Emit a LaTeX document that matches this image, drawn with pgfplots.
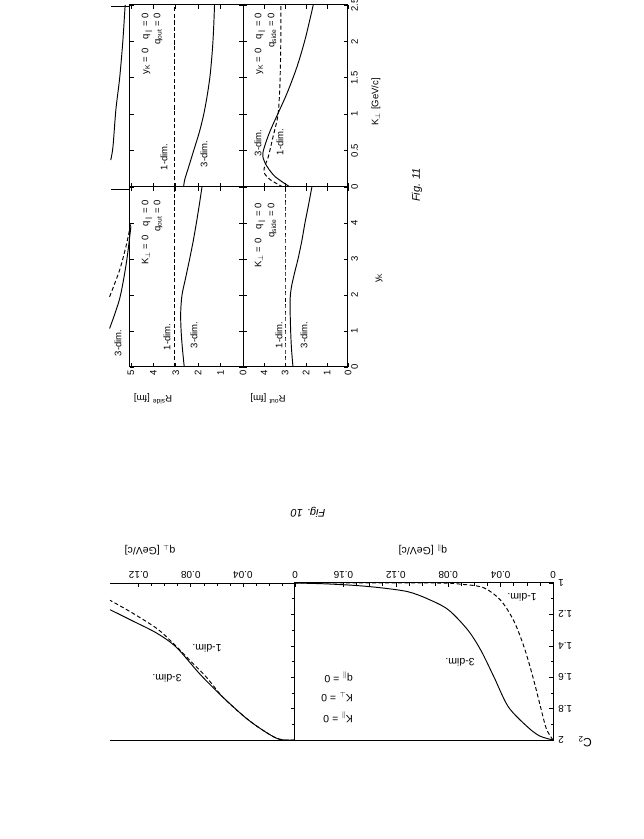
\documentclass[border=0pt]{standalone}
\usepackage{fontspec}
\setmainfont{Liberation Sans}
\setsansfont{Liberation Sans}
\usepackage{pgfplots}
\pgfplotsset{compat=1.18}

\pgfplotsset{
  panel/.style={
    scale only axis, anchor=center,
    axis line style={line width=1pt, black},
    tick style={line width=0.6pt, black},
    major tick length=4pt, minor tick length=2.5pt,
    /pgf/number format/assume math mode=true,
    tick label style={font=\fontsize{9.5}{10}\selectfont, inner sep=3pt},
  },
  % Fig. 11 is turned a quarter turn: R runs right-to-left, y_K / K_perp upward
  figXI/.style={panel, x dir=reverse,
    xticklabel style={rotate=90, anchor=east},
    yticklabel style={rotate=90, anchor=north}},
  % Fig. 10 is upside down
  figX/.style={panel, x dir=reverse, y dir=reverse,
    xticklabel pos=right, yticklabel pos=right,
    xtick pos=right, ytick pos=right,
    xticklabel style={rotate=180, anchor=north, inner sep=4.5pt},
    yticklabel style={rotate=180, anchor=east, inner sep=5pt}},
}
\tikzset{
  solidc/.style={black, line width=0.95pt, smooth, tension=0.5},
  dashc/.style={black, line width=0.95pt, dash pattern=on 4pt off 2.5pt, smooth, tension=0.5},
  lab/.style={font=\fontsize{9.5}{10}\selectfont, inner sep=0pt},
}

\begin{document}
\begin{tikzpicture}
\path[use as bounding box] (0,0) rectangle (644pt,839pt);

% ---------------- Fig. 11 ----------------
% R_side vs y_K
\begin{axis}[figXI, at={(186.5pt,562pt)}, width=113pt, height=180pt,
  xmin=0, xmax=5.04, ymin=0, ymax=5,
  xtick={0,...,5}, xticklabels={0,1,2,3,4,5},
  ytick={0,...,5}, yticklabels={}, clip=false]
  \addplot[dashc] coordinates {(3.05,0)(3.05,5)};
  \addplot[solidc] coordinates {(2.62,0)(2.70,0.5)(2.76,1)(2.78,1.5)(2.72,2)(2.55,2.5)(2.38,3)(2.22,3.5)(2.08,4)(1.95,4.5)(1.83,5)};
  \addplot[solidc] coordinates {(5.95,1.07)(5.5,1.9)(5.2,2.9)(5.0,3.9)};
  \addplot[dashc] coordinates {(5.95,1.95)(5.5,2.7)(5.2,3.4)(5.0,4.0)};
\end{axis}
% R_side vs K_perp
\begin{axis}[figXI, at={(186.5pt,743pt)}, width=113pt, height=182pt,
  xmin=0, xmax=5.04, ymin=0, ymax=2.5,
  xtick={0,...,5}, xticklabels={},
  ytick={0,0.5,...,2.5}, yticklabels={}, clip=false]
  \addplot[dashc] coordinates {(3.05,0)(3.05,2.5)};
  \addplot[solidc] coordinates {(2.65,0)(2.6,0.1)(2.45,0.25)(2.2,0.5)(1.95,0.75)(1.75,1.0)(1.6,1.25)(1.48,1.5)(1.4,1.75)(1.34,2.0)(1.3,2.25)(1.27,2.5)};
  \addplot[solidc] coordinates {(5.9,0.37)(5.8,0.55)(5.67,1.06)(5.5,1.5)(5.36,2.0)(5.27,2.43)(5.25,2.5)};
\end{axis}
% R_out vs y_K
\begin{axis}[figXI, at={(295.5pt,562pt)}, width=105pt, height=180pt,
  xmin=0, xmax=5, ymin=0, ymax=5, yticklabel pos=right,
  xtick={0,...,5}, xticklabels={0,1,2,3,4,},
  ytick={0,...,5}, yticklabels={0,1,2,3,4,}]
  \addplot[dashc] coordinates {(3.0,0)(3.0,5)};
  \addplot[solidc] coordinates {(2.62,0)(2.69,0.5)(2.73,1)(2.76,1.8)(2.70,2.2)(2.55,2.6)(2.38,3)(2.2,3.5)(2.05,4)(1.88,4.5)(1.72,5)};
\end{axis}
% R_out vs K_perp
\begin{axis}[figXI, at={(295.5pt,743pt)}, width=105pt, height=182pt,
  xmin=0, xmax=5, ymin=0, ymax=2.5, yticklabel pos=right,
  xtick={0,...,5}, xticklabels={},
  ytick={0,0.5,...,2.5}, yticklabels={0,0.5,1,1.5,2,2.5}]
  \addplot[dashc] coordinates {(3.1,0)(3.7,0.1)(4.0,0.2)(3.95,0.3)(3.8,0.41)(3.57,0.69)(3.33,1.0)(3.24,1.43)(3.2,2.0)(3.2,2.5)};
  \addplot[solidc] coordinates {(2.76,0)(3.5,0.15)(3.95,0.33)(4.05,0.47)(3.75,0.74)(3.35,1.0)(2.9,1.29)(2.43,1.65)(2.05,2.02)(1.71,2.43)(1.66,2.5)};
\end{axis}

\draw[line width=1pt] (111pt,832pt) -- (130pt,832pt);
\draw[line width=1pt] (111pt,649pt) -- (130pt,649pt);

\node[lab, rotate=90] at (167pt,502pt) {1-dim.};
\node[lab, rotate=90] at (194pt,504pt) {3-dim.};
\node[lab, rotate=90, anchor=east] at (147pt,639pt) {K\textsubscript{$\perp$} = 0\quad q\textsubscript{$\parallel$} = 0};
\node[lab, rotate=90, anchor=east] at (158pt,639pt) {q\textsubscript{out} = 0};
\node[lab, rotate=90] at (164pt,682pt) {1-dim.};
\node[lab, rotate=90] at (204pt,685pt) {3-dim.};
\node[lab, rotate=90, anchor=east] at (147pt,826pt) {y\textsubscript{K} = 0\quad q\textsubscript{$\parallel$} = 0};
\node[lab, rotate=90, anchor=east] at (158pt,826pt) {q\textsubscript{out} = 0};
\node[lab, rotate=90] at (279pt,504pt) {1-dim.};
\node[lab, rotate=90] at (304pt,504pt) {3-dim.};
\node[lab, rotate=90, anchor=east] at (260pt,636pt) {K\textsubscript{$\perp$} = 0\quad q\textsubscript{$\parallel$} = 0};
\node[lab, rotate=90, anchor=east] at (272pt,636pt) {q\textsubscript{side} = 0};
\node[lab, rotate=90] at (258pt,696pt) {3-dim.};
\node[lab, rotate=90] at (280pt,697pt) {1-dim.};
\node[lab, rotate=90, anchor=east] at (260pt,826pt) {y\textsubscript{K} = 0\quad q\textsubscript{$\parallel$} = 0};
\node[lab, rotate=90, anchor=east] at (272pt,826pt) {q\textsubscript{side} = 0};
\node[lab, rotate=90] at (118pt,496pt) {3-dim.};
\node[lab, rotate=90] at (379pt,561pt) {y\textsubscript{K}};
\node[lab, rotate=90] at (376pt,737pt) {K\textsubscript{$\perp$} [GeV/c]};
\node[lab, rotate=180] at (153pt,440pt) {R\textsuperscript{side} [fm]};
\node[lab, rotate=180] at (268pt,440pt) {R\textsuperscript{out} [fm]};
\node[font=\itshape\fontsize{11}{12}\selectfont, rotate=90] at (417pt,654pt) {Fig. 11};

% ---------------- Fig. 10 ----------------
% C2 vs q_par
\begin{axis}[figX, at={(424pt,177.5pt)}, width=258pt, height=157pt,
  xmin=0, xmax=0.197, ymin=1, ymax=2,
  xtick={0,0.04,0.08,0.12,0.16}, xticklabels={0,0.04,0.08,0.12,0.16},
  minor x tick num=3,
  ytick={1,1.2,1.4,1.6,1.8,2}, yticklabels={1,1.2,1.4,1.6,1.8,2},
  minor y tick num=1,
  tick label style={font=\fontsize{10}{11}\selectfont}]
  \addplot[dashc] coordinates {(0,2.0)(0.005,1.93)(0.0092,1.80)(0.0153,1.60)(0.022,1.41)(0.030,1.24)(0.040,1.11)(0.053,1.03)(0.07,1.008)(0.09,1.0)(0.197,1.0)};
  \addplot[solidc] coordinates {(0,2.0)(0.01,1.975)(0.019,1.92)(0.034,1.79)(0.045,1.60)(0.055,1.43)(0.065,1.30)(0.080,1.17)(0.096,1.10)(0.111,1.055)(0.132,1.03)(0.152,1.015)(0.175,1.005)(0.197,1.0)};
\end{axis}
% C2 vs q_perp
\begin{axis}[figX, at={(202.5pt,177.5pt)}, width=185pt, height=157pt,
  xmin=0, xmax=0.142, ymin=1, ymax=2,
  axis x line*=box, axis y line*=right, y axis line style={-},
  xtick={0,0.04,0.08,0.12}, xticklabels={0,0.04,0.08,0.12},
  minor x tick num=3,
  ytick={1,1.2,1.4,1.6,1.8,2}, yticklabels={},
  minor y tick num=1,
  tick label style={font=\fontsize{10}{11}\selectfont}]
  \addplot[dashc] coordinates {(0,2.0)(0.0138,1.99)(0.0346,1.88)(0.055,1.73)(0.068,1.60)(0.081,1.49)(0.094,1.38)(0.106,1.29)(0.125,1.19)(0.142,1.11)};
  \addplot[solidc] coordinates {(0,2.0)(0.0138,1.99)(0.0346,1.88)(0.055,1.73)(0.073,1.58)(0.091,1.41)(0.106,1.32)(0.125,1.24)(0.142,1.17)};
\end{axis}

\tikzset{lab10/.style={font=\fontsize{10.5}{11}\selectfont, inner sep=0pt, rotate=180}}
\node[lab10] at (460pt,177pt) {3-dim.};
\node[lab10] at (522pt,242pt) {1-dim.};
\node[lab10] at (207pt,191pt) {1-dim.};
\node[lab10] at (167pt,161pt) {3-dim.};
\node[lab10, anchor=west] at (353pt,122pt) {K\textsubscript{$\parallel$} = 0};
\node[lab10, anchor=west] at (353pt,142pt) {K\textsubscript{$\perp$} = 0};
\node[lab10, anchor=west] at (353pt,162pt) {q\textsubscript{$\parallel$} = 0};
\node[lab10] at (423pt,289pt) {q\textsubscript{$\parallel$} [GeV/c]};
\node[lab10] at (150pt,289pt) {q\textsubscript{$\perp$} [GeV/c]};
\node[lab10, font=\fontsize{12}{13}\selectfont] at (585pt,97pt) {C\textsubscript{2}};
\node[font=\itshape\fontsize{11}{12}\selectfont, rotate=180] at (308pt,327pt) {Fig. 10};
\end{tikzpicture}
\end{document}
